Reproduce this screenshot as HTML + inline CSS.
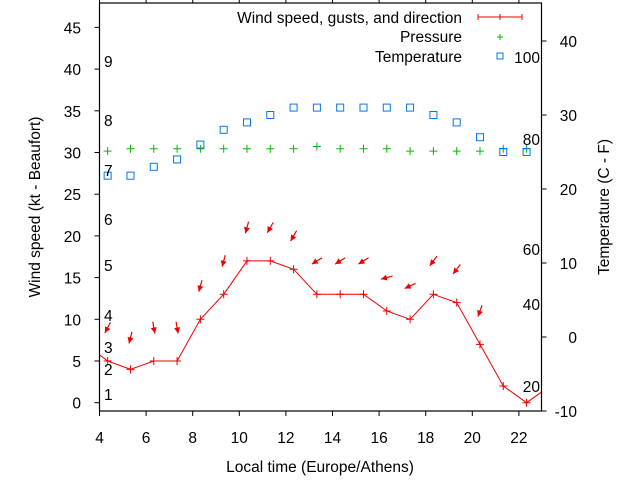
<!DOCTYPE html>
<html><head><meta charset="utf-8"><style>
body{margin:0;background:#fff}
svg text{font-family:"Liberation Sans",sans-serif;font-size:15.5px;fill:#000}
</style></head><body>
<svg id="c" width="640" height="480">
<defs><clipPath id="clip"><rect x="99.5" y="3" width="442" height="408"/></clipPath></defs>
<g id="grid"></g>
<g id="series" clip-path="url(#clip)"></g>
<rect x="99.5" y="3" width="442" height="408" fill="none" stroke="#000" stroke-width="1.2"/>
<g id="axes"></g>
<text x="40" y="207" text-anchor="middle" transform="rotate(-90 40 207)">Wind speed (kt - Beaufort)</text>
<text x="609" y="207" text-anchor="middle" transform="rotate(-90 609 207)">Temperature (C - F)</text>
<text x="320" y="472" text-anchor="middle">Local time (Europe/Athens)</text>
<g>
<text x="462" y="23" text-anchor="end">Wind speed, gusts, and direction</text>
<line x1="478" y1="17" x2="522" y2="17" stroke="#e00"/>
<line x1="478" y1="14" x2="478" y2="20" stroke="#e00"/><line x1="522" y1="14" x2="522" y2="20" stroke="#e00"/><line x1="500" y1="14" x2="500" y2="20" stroke="#e00"/>
<text x="462" y="42" text-anchor="end">Pressure</text>
<path d="M497 37h6M500 34v6" stroke="#0b0"/>
<text x="462" y="62" text-anchor="end">Temperature</text>
<rect x="497" y="53" width="6" height="6" fill="none" stroke="#07e"/>
</g>
</svg>
<script>
const hours=[3.4,4.35,5.33,6.33,7.33,8.33,9.33,10.33,11.33,12.33,13.33,14.33,15.33,16.33,17.33,18.33,19.33,20.33,21.33,22.33,23.33];
const windSpeed=[7,5,4,5,5,10,13,17,17,16,13,13,13,11,10,13,12,7,2,0,2];
const pressHours=[4.35,5.33,6.33,7.33,8.33,9.33,10.33,11.33,12.33,13.33,14.33,15.33,16.33,17.33,18.33,19.33,20.33,21.33,22.33];
const pressure=[30.16,30.45,30.45,30.45,30.45,30.45,30.45,30.45,30.45,30.72,30.45,30.45,30.45,30.16,30.16,30.16,30.16,30.45,30.45];
const temperature=[21.8,21.8,23,24,26,28,29,30,31,31,31,31,31,31,30,29,27,25,25];
const gustHours=[4.35,5.33,6.33,7.33,8.33,9.33,10.33,11.33,12.33,13.33,14.33,15.33,16.33,17.33,18.33,19.33,20.33];
const gusts=[9,7.8,9,9,14,17,21,21,20,17,17,17,15,14,17,16,11];
const windDir=[27,14,350,350,15,15,15,30,30,58,58,58,75,65,37,37,20];
const xTicks=[4,6,8,10,12,14,16,18,20,22];
const yTicks=[0,5,10,15,20,25,30,35,40,45];
const y2Ticks=[-10,0,10,20,30,40];
const beaufort=[[1,394],[2,369],[3,347],[4,315],[5,265],[6,219],[7,170],[8,120],[9,61]];
const fahr=[[20,386],[40,304],[60,249],[80,139],[100,57]];
const X=h=>99.5+(h-4)*23.3, Y=v=>402.7-v*8.34, Y2=t=>411-(t+10)*7.4;
const ns='http://www.w3.org/2000/svg';
function mk(tag,attrs,parent,txt){const e=document.createElementNS(ns,tag);for(const k in attrs)e.setAttribute(k,attrs[k]);if(txt!==undefined)e.textContent=txt;document.getElementById(parent).appendChild(e);return e;}
xTicks.forEach(h=>{
 const t=mk('line',{x1:X(h),x2:X(h),y1:411,y2:416,stroke:'#000'},'axes');
 
 
 const t2=mk('line',{x1:X(h),x2:X(h),y1:3,y2:-2,stroke:'#000'},'axes');
 
 
 const l=mk('text',{x:X(h),y:443,'text-anchor':'middle'},'axes',h);
 
 
});
yTicks.forEach(v=>{
 const t=mk('line',{x1:94.5,x2:99.5,y1:Y(v),y2:Y(v),stroke:'#000'},'axes');
 
 
 const l=mk('text',{x:81,y:Y(v)+6,'text-anchor':'end'},'axes',v);
 
 
});
y2Ticks.forEach(v=>{
 const t=mk('line',{x1:541.5,x2:546.5,y1:Y2(v),y2:Y2(v),stroke:'#000'},'axes');
 
 
 const l=mk('text',{x:577,y:Y2(v)+6,'text-anchor':'end'},'axes',v);
 
 
});
beaufort.forEach(([n,y])=>{
 const l=mk('text',{x:104,y:y+6},'axes',n);
 
 
});
fahr.forEach(([n,y])=>{
 const l=mk('text',{x:540,y:y+6,'text-anchor':'end'},'axes',n);
 
 
});
const line=mk('polyline',{points:hours.map((h,i)=>X(h)+','+Y(windSpeed[i])).join(' '),fill:'none',stroke:'#e00','stroke-width':1},'series');


hours.forEach((h,i)=>{
 const x=X(h),y=Y(windSpeed[i]);
 const p=mk('path',{d:`M${x-4} ${y}h8M${x} ${y-4}v8`,stroke:'#e00'},'series');
 
 
});
pressHours.forEach((h,i)=>{
 const x=X(h),y=Y(pressure[i]);
 const p=mk('path',{d:`M${x-4} ${y}h8M${x} ${y-4}v8`,stroke:'#0b0'},'series');
 
 
});
pressHours.forEach((h,i)=>{
 const x=X(h),y=Y2(temperature[i]);
 const r=mk('rect',{x:x-3.5,y:y-3.5,width:7,height:7,fill:'none',stroke:'#07e'},'series');
 
 
});
gustHours.forEach((h,i)=>{
 const cx=X(h),cy=Y(gusts[i]),a=windDir[i]*Math.PI/180;
 const dx=-Math.sin(a),dy=Math.cos(a),L=6;
 const hx=cx+dx*L,hy=cy+dy*L,tx=cx-dx*L,ty=cy-dy*L;
 const px=-dy,py=dx;
 const g=mk('g',{},'series');
 
 
 const l=document.createElementNS(ns,'line');
 l.setAttribute('x1',tx);l.setAttribute('y1',ty);l.setAttribute('x2',hx);l.setAttribute('y2',hy);l.setAttribute('stroke','#e00');l.setAttribute('stroke-width','1.2');
 g.appendChild(l);
 const hd=document.createElementNS(ns,'path');
 hd.setAttribute('d',`M${hx} ${hy}L${hx-dx*6+px*3} ${hy-dy*6+py*3}L${hx-dx*6-px*3} ${hy-dy*6-py*3}Z`);
 hd.setAttribute('fill','#e00');
 g.appendChild(hd);
});
</script>
</body></html>
